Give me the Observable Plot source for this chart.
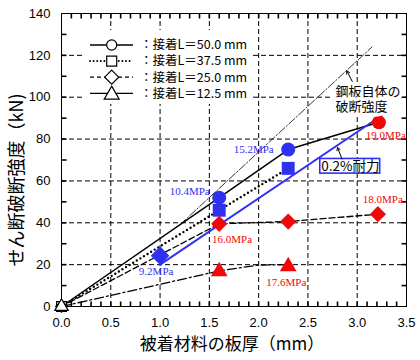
<!DOCTYPE html>
<html><head><meta charset="utf-8">
<script src="https://cdn.jsdelivr.net/npm/d3@7"></script>
<script src="https://cdn.jsdelivr.net/npm/@observablehq/plot@0.6"></script>
<style>
body{margin:0;background:#fff}
#wrap{position:relative;width:420px;height:360px}
#legend{position:absolute;left:82px;top:30px}
</style>
</head><body><div id="wrap"></div>
<script>
// ---- data ----
const blue = "#3030f0", red = "#f00808";
const xMajor = [0, 0.5, 1.0, 1.5, 2.0, 2.5, 3.0, 3.5];
const yMajor = [0, 20, 40, 60, 80, 100, 120, 140];
const xGrid = [0.5, 1.0, 1.5, 2.0, 2.5, 3.0];
const yGrid = [20, 40, 60, 80, 100, 120];
const xMinor = [0.1,0.2,0.3,0.4,0.5,0.6,0.7,0.8,0.9,1.0,1.1,1.2,1.3,1.4,1.5,1.6,1.7,1.8,1.9,2.0,2.1,2.2,2.3,2.4,2.5,2.6,2.7,2.8,2.9,3.0,3.1,3.2,3.3,3.4];
const yMinor = [10,20,30,40,50,60,70,80,90,100,110,120,130];

// lines (thickness mm, strength kN)
const l50X = [0, 1.6, 2.3, 3.22], l50Y = [0, 52, 75, 88];
const l375X = [0, 1.6, 2.3], l375Y = [0, 46, 66];
const l25X = [0, 1.6, 2.3, 3.21], l25Y = [0, 39.5, 40.6, 44.1];
const l125X = [0, 1.6, 2.0, 2.3], l125Y = [0, 17, 19.8, 20];
const steelX = [1.2, 3.15], steelY = [39, 124];
const proofX = [1.0, 3.32], proofY = [20, 93.5];

// markers
const circleX = [1.6, 2.3, 3.22], circleY = [52, 75, 88], circleC = [blue, blue, red];
const squareX = [1.6, 2.3], squareY = [46, 66];
const diamondBlueX = [1.0], diamondBlueY = [24.3];
const diamondRedX = [1.6, 2.3, 3.21], diamondRedY = [39.5, 40.6, 44.1];
const triangleX = [1.6, 2.3], triangleY = [16.8, 19.2];

// stress labels
const stressText = ["10.4MPa", "15.2MPa", "9.2MPa", "16.0MPa", "19.0MPa", "18.0MPa", "17.6MPa"];
const stressX = [1.30, 1.95, 0.96, 1.73, 3.29, 3.26, 2.28];
const stressY = [55.2, 75.2, 16.7, 31.9, 81.9, 51.0, 11.6];
const stressC = [blue, blue, blue, red, red, red, red];

// annotations
const steelNote = ["鋼板自体の\n破断強度"], steelNoteX = [2.78], steelNoteY = [99.3];
const steelArrow = {x1: 2.95, y1: 107.5, x2: 2.895, y2: 112.6};
const proofNote = ["0.2%耐力"], proofNoteX = [2.93], proofNoteY = [67];
const proofBox = {x1: 2.625, x2: 3.233, y1: 63.5, y2: 70.5};
const proofArrow = {x1: 2.845, y1: 70.5, x2: 2.80, y2: 76};

const legendLabels = ["：接着L＝50.0 mm", "：接着L＝37.5 mm", "：接着L＝25.0 mm", "：接着L＝12.5 mm"];
const xTitle = "被着材料の板厚（mm）";
const yTitle = "せん断破断強度（kN)";

// ---- layout ----
const W = 420, H = 360, mL = 61, mR = 14, mT = 13, mB = 54;
const xDom = [0, 3.5], yDom = [0, 140];
const tickPx = 5;
const tx = tickPx * (xDom[1] - xDom[0]) / (W - mL - mR); // tick length in x units
const ty = tickPx * (yDom[1] - yDom[0]) / (H - mT - mB); // tick length in y units
const ticksBottom = xMinor.map(v => ({a: v, b: yDom[0], c: yDom[0] + ty}));
const ticksTop = xMinor.map(v => ({a: v, b: yDom[1] - ty, c: yDom[1]}));
const ticksLeft = yMinor.map(v => ({a: v, b: xDom[0], c: xDom[0] + tx}));
const ticksRight = yMinor.map(v => ({a: v, b: xDom[1] - tx, c: xDom[1]}));

const cjk = "'Noto Sans CJK JP', sans-serif";
const serif = "'Liberation Serif', serif";
const grid = {stroke: "black", strokeOpacity: 1, strokeDasharray: "5,3", strokeWidth: 1};
const tk = {stroke: "black", strokeOpacity: 1, strokeWidth: 1.6};

const plot = Plot.plot({
  width: W, height: H,
  marginLeft: mL, marginRight: mR, marginTop: mT, marginBottom: mB,
  x: {domain: xDom},
  y: {domain: yDom},
  style: {fontFamily: "'Liberation Sans', sans-serif", fontSize: "13px", background: "white", color: "black"},
  marks: [
    Plot.gridX(xGrid, grid),
    Plot.gridY(yGrid, grid),
    Plot.axisX({anchor: "bottom", ticks: xMajor, tickSize: 0, tickPadding: 11, tickFormat: d3.format(".1f"), label: null, fontSize: 13}),
    Plot.axisY({anchor: "left", ticks: yMajor, tickSize: 0, tickPadding: 11, tickFormat: d3.format("d"), label: null, fontSize: 13}),
    Plot.frame({stroke: "black", strokeWidth: 1}),
    // inward ticks on all four sides
    Plot.link(ticksBottom, {x1: "a", x2: "a", y1: "b", y2: "c", ...tk}),
    Plot.link(ticksTop, {x1: "a", x2: "a", y1: "b", y2: "c", ...tk}),
    Plot.link(ticksLeft, {y1: "a", y2: "a", x1: "b", x2: "c", ...tk}),
    Plot.link(ticksRight, {y1: "a", y2: "a", x1: "b", x2: "c", ...tk}),
    // lines
    Plot.line(steelX, {x: steelX, y: steelY, stroke: "black", strokeWidth: 0.8, strokeDasharray: "8,2,1.5,2"}),
    Plot.line(l125X, {x: l125X, y: l125Y, stroke: "black", strokeWidth: 1.3, strokeDasharray: "9,3,2,3"}),
    Plot.line(l25X, {x: l25X, y: l25Y, stroke: "black", strokeWidth: 1.3, strokeDasharray: "6,3"}),
    Plot.line(l375X, {x: l375X, y: l375Y, stroke: "black", strokeWidth: 2.4, strokeDasharray: "0,4.2", strokeLinecap: "round"}),
    Plot.line(l50X, {x: l50X, y: l50Y, stroke: "black", strokeWidth: 1.5}),
    Plot.line(proofX, {x: proofX, y: proofY, stroke: blue, strokeWidth: 1.9}),
    // origin open markers
    Plot.dot([0], {x: [0], y: [0], symbol: "square", r: 5.5, fill: "white", stroke: "black", strokeWidth: 1.2}),
    Plot.dot([0], {x: [0], y: [0], symbol: "diamond2", r: 5.2, fill: "white", stroke: "black", strokeWidth: 1.2}),
    Plot.dot([0], {x: [0], y: [0], symbol: "triangle", r: 5, fill: "white", stroke: "black", strokeWidth: 1.2}),
    // filled markers
    Plot.dot(circleX, {x: circleX, y: circleY, symbol: "circle", r: 7, fill: circleC}),
    Plot.dot(squareX, {x: squareX, y: squareY, symbol: "square", r: 7.3, fill: blue}),
    Plot.dot(diamondBlueX, {x: diamondBlueX, y: diamondBlueY, symbol: "diamond2", r: 8.4, fill: blue}),
    Plot.dot(diamondRedX, {x: diamondRedX, y: diamondRedY, symbol: "diamond2", r: 7.3, fill: red}),
    Plot.dot(triangleX, {x: triangleX, y: triangleY, symbol: "triangle", r: 6.2, fill: red}),
    // stress labels
    Plot.text(stressText, {x: stressX, y: stressY, text: stressText, fill: stressC, fontFamily: serif, fontSize: 11, textAnchor: "middle"}),
    // steel note
    Plot.text(steelNote, {x: steelNoteX, y: steelNoteY, text: steelNote, textAnchor: "start", lineAnchor: "middle", lineHeight: 1.15, fontFamily: cjk, fontSize: 13, fill: "black", stroke: "white", strokeWidth: 7}),
    Plot.arrow([steelArrow], {x1: "x1", y1: "y1", x2: "x2", y2: "y2", stroke: "black", strokeWidth: 1, headLength: 5}),
    // proof note
    Plot.rect([proofBox], {x1: "x1", x2: "x2", y1: "y1", y2: "y2", fill: "white", stroke: blue, strokeWidth: 1.6}),
    Plot.text(proofNote, {x: proofNoteX, y: proofNoteY, text: proofNote, fontFamily: cjk, fontSize: 13.5, fill: "black"}),
    Plot.arrow([proofArrow], {x1: "x1", y1: "y1", x2: "x2", y2: "y2", stroke: "black", strokeWidth: 1, headLength: 5}),
    // axis titles
    Plot.text([xTitle], {frameAnchor: "bottom", text: d => d, dy: 38, dx: -2, textAnchor: "middle", lineAnchor: "middle", fontFamily: cjk, fontSize: 17}),
    Plot.text([yTitle], {frameAnchor: "left", text: d => d, dx: -44, dy: 20, rotate: -90, textAnchor: "middle", lineAnchor: "middle", fontFamily: cjk, fontSize: 18})
  ]
});
const wrap = document.getElementById("wrap");
wrap.appendChild(plot);

// ---- legend overlay ----
const legendSymbols = [d3.symbolCircle, d3.symbolSquare, d3.symbolDiamond2, d3.symbolTriangle];
const legendSizes = [80, 100, 125, 97];
const legendDash = [null, "0,3.6", "4,3", null];
const lg = d3.select(wrap).append("svg").attr("id", "legend").attr("width", 168).attr("height", 74);
lg.append("rect").attr("width", 168).attr("height", 74).attr("fill", "white");
legendLabels.forEach((lab, i) => {
  const cy = 15 + i * 16.1;
  lg.append("line").attr("x1", 8).attr("x2", 51).attr("y1", cy).attr("y2", cy)
    .attr("stroke", "black").attr("stroke-width", i === 1 ? 2 : 1.3)
    .attr("stroke-dasharray", legendDash[i]).attr("stroke-linecap", i === 1 ? "round" : null);
  lg.append("path").attr("d", d3.symbol(legendSymbols[i], legendSizes[i])())
    .attr("transform", `translate(29.7,${cy + (i === 3 ? 1.5 : 0)})`)
    .attr("fill", "white").attr("stroke", "black").attr("stroke-width", 1.2);
  lg.append("text").attr("x", 58).attr("y", cy).attr("dy", "0.35em")
    .attr("font-family", "'Noto Sans CJK JP', sans-serif").attr("font-size", 12.5).text(lab);
});
</script>
</body></html>
